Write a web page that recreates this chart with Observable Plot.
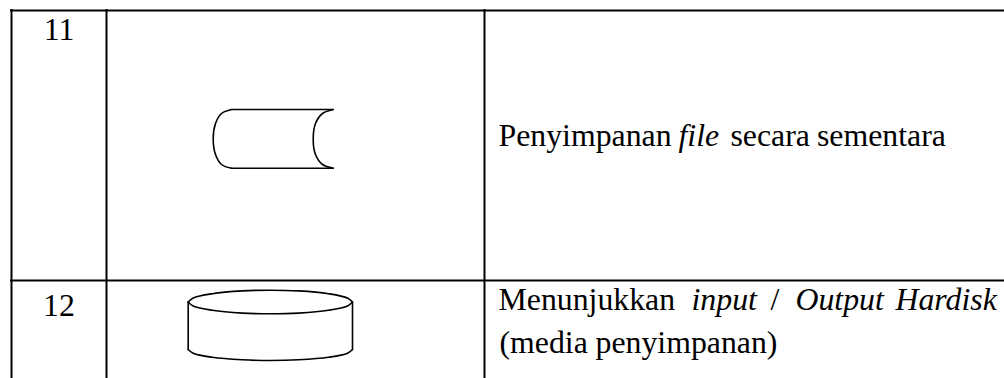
<!DOCTYPE html>
<html>
<head>
<meta charset="utf-8">
<script src="https://cdn.jsdelivr.net/npm/d3@7"></script>
<script src="https://cdn.jsdelivr.net/npm/@observablehq/plot@0.6"></script>
<style>html,body{margin:0;padding:0;background:#fff;overflow:hidden}svg{display:block}</style>
</head>
<body>
<script>
const columnRules = [11, 106, 484];
const rowRules = [10, 280];
const rowNumbers = [
  {label: "11", x: 58.5, y: 39.5},
  {label: "12", x: 58.5, y: 315.5}
];
const regularWords = [
  {word: "Penyimpanan", x: 498, y: 145.5},
  {word: "secara", x: 730, y: 145.5},
  {word: "sementara", x: 816.5, y: 145.5},
  {word: "Menunjukkan", x: 498, y: 309.5},
  {word: "/", x: 770, y: 309.5},
  {word: "(media", x: 499, y: 352},
  {word: "penyimpanan)", x: 595, y: 352}
];
const italicWords = [
  {word: "file", x: 678, y: 145.5},
  {word: "input", x: 691, y: 309.5},
  {word: "Output", x: 795, y: 309.5},
  {word: "Hardisk", x: 895, y: 309.5}
];
const storageEdges = [
  [[231, 109], [332.7, 109]],
  [[231, 167.7], [332.7, 167.7]]
];
const storageCurves = [
  [[231, 109], [221, 113], [215, 123], [212.7, 138.4], [215, 154], [221, 164], [231, 167.7]],
  [[332.7, 109], [322, 113], [315, 123], [312.7, 138.4], [315, 154], [322, 164], [332.7, 167.7]]
];
const diskSides = [
  [[187.7, 301.5], [187.7, 349]],
  [[352, 301.5], [352, 349]]
];
const diskCurves = [
  [[187.7, 301.5], [192.7, 297.5], [211.8, 293.2], [241.7, 290.4], [269.8, 289.7], [298, 290.4], [328, 293.2], [347, 297.5], [352, 301.5]],
  [[187.7, 301.5], [192.7, 305.5], [211.8, 309.8], [241.7, 312.6], [269.8, 313.3], [298, 312.6], [328, 309.8], [347, 305.5], [352, 301.5]],
  [[187.7, 349], [192.7, 352.8], [211.8, 356.8], [241.7, 359.3], [269.8, 360], [298, 359.3], [328, 356.8], [347, 352.8], [352, 349]]
];

const font = {fontFamily: "'Liberation Serif'", fontSize: 31.8, fill: "black", lineAnchor: "bottom"};
const shapeLine = {x: d => d[0], y: d => d[1], stroke: "black", strokeWidth: 1.6};

const chart = Plot.plot({
  width: 1004,
  height: 378,
  margin: 0,
  x: {type: "linear", domain: [0, 1004], range: [0, 1004], axis: null},
  y: {type: "linear", domain: [0, 378], range: [0, 378], axis: null},
  marks: [
    Plot.ruleX(columnRules, {x: d => d, y1: rowRules[0] - 1, y2: 378, stroke: "black", strokeWidth: 2}),
    Plot.ruleY(rowRules, {y: d => d, x1: columnRules[0] - 1, x2: 1004, stroke: "black", strokeWidth: 2}),
    ...storageEdges.map(s => Plot.line(s, shapeLine)),
    ...storageCurves.map(s => Plot.line(s, {...shapeLine, curve: "catmull-rom"})),
    ...diskSides.map(s => Plot.line(s, shapeLine)),
    ...diskCurves.map(s => Plot.line(s, {...shapeLine, curve: "catmull-rom"})),
    Plot.text(rowNumbers, {x: "x", y: "y", text: "label", textAnchor: "middle", ...font}),
    Plot.text(regularWords, {x: "x", y: "y", text: "word", textAnchor: "start", ...font}),
    Plot.text(italicWords, {x: "x", y: "y", text: "word", textAnchor: "start", fontStyle: "italic", ...font})
  ]
});
document.body.appendChild(chart);
</script>
</body>
</html>
